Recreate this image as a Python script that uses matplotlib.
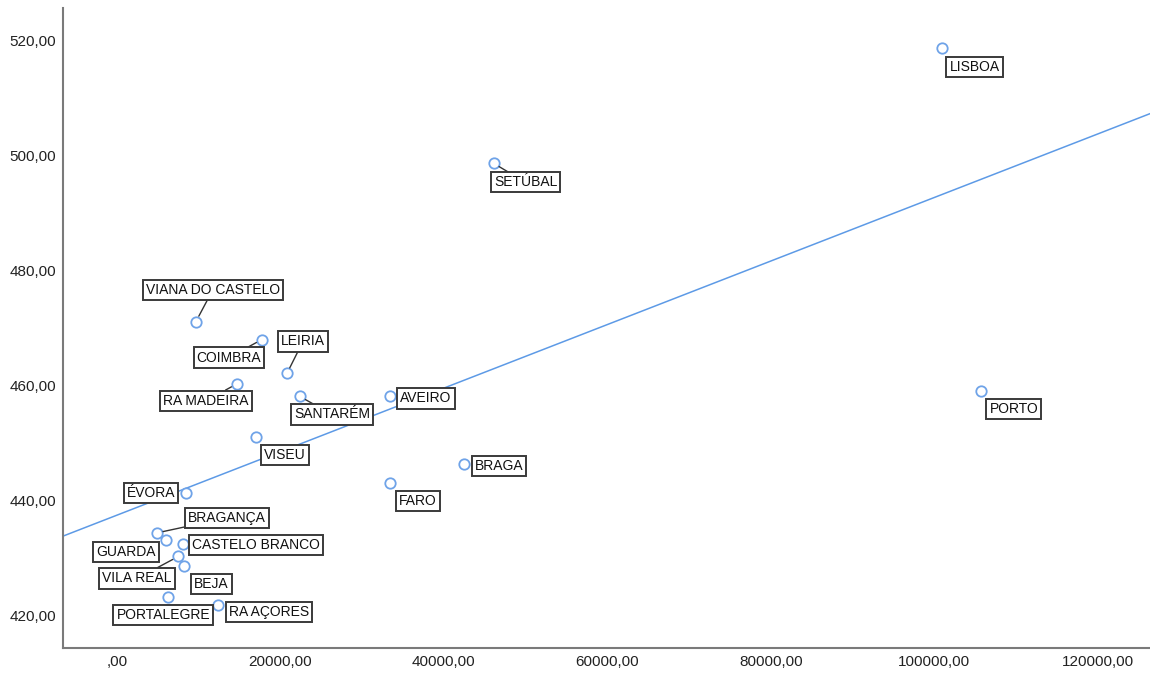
import numpy as np
import matplotlib
matplotlib.use('Agg')
from matplotlib import pyplot as plt
from matplotlib.ticker import FuncFormatter

plt.rcParams['font.family'] = ['Liberation Sans', 'DejaVu Sans']

# data
regions = ['LISBOA', 'SETÚBAL', 'PORTO', 'VIANA DO CASTELO', 'COIMBRA', 'LEIRIA',
           'RA MADEIRA', 'SANTARÉM', 'AVEIRO', 'VISEU', 'BRAGA', 'FARO', 'ÉVORA',
           'BRAGANÇA', 'GUARDA', 'CASTELO BRANCO', 'VILA REAL', 'BEJA',
           'PORTALEGRE', 'RA AÇORES']
x_vals = [100900, 46100, 105700, 9660, 17740, 20800,
          14680, 22390, 33400, 17000, 42450, 33400, 8440,
          4890, 5990, 8040, 7500, 8240,
          6280, 12390]
y_vals = [518.6, 498.6, 459.1, 471.1, 468.0, 462.1,
          460.3, 458.1, 458.1, 451.0, 446.3, 443.1, 441.4,
          434.4, 433.2, 432.5, 430.3, 428.6,
          423.2, 421.9]
x_ticks = [0, 20000, 40000, 60000, 80000, 100000, 120000]
y_ticks = [420, 440, 460, 480, 500, 520]

# label placement (pixels from the point, y up) and which get a leader line
label_offsets = {
    'LISBOA': (33, -19), 'SETÚBAL': (32, -19), 'PORTO': (33, -18),
    'VIANA DO CASTELO': (17, 32), 'COIMBRA': (-33, -18), 'LEIRIA': (16, 32),
    'RA MADEIRA': (-31, -17), 'SANTARÉM': (32, -18), 'AVEIRO': (36, -2),
    'VISEU': (29, -18), 'BRAGA': (35, -2), 'FARO': (28, -18), 'ÉVORA': (-35, 0),
    'BRAGANÇA': (70, 15), 'GUARDA': (-40, -12), 'CASTELO BRANCO': (73, -1),
    'VILA REAL': (-41, -22), 'BEJA': (27, -18), 'PORTALEGRE': (-5, -18),
    'RA AÇORES': (51, -7),
}
leaders = ['SETÚBAL', 'VIANA DO CASTELO', 'COIMBRA', 'LEIRIA', 'RA MADEIRA',
           'SANTARÉM', 'BRAGANÇA', 'VILA REAL']


def spss_fmt(v, pos):
    s = f'{v:.2f}'.replace('.', ',')
    if s.startswith('0,'):
        s = s[1:]
    return s


fig = plt.figure(figsize=(11.5, 6.74), dpi=100)
ax = fig.add_axes([63 / 1150, 1 - 648 / 674, 1 - 63 / 1150, (648 - 8) / 674])

x = np.array(x_vals)
y = np.array(y_vals)

# linear fit line across the whole axis
slope, intercept = np.polyfit(x, y, 1)
xl = np.array([-6600, 126400])
ax.plot(xl, slope * xl + intercept, color='#5d9ae6', lw=1.1, zorder=2)

ax.plot(x, y, 'o', mfc='white', mec='#6fa3e8', mew=1.3, ms=7.5, zorder=4)

for name, px, py in zip(regions, x_vals, y_vals):
    dx, dy = label_offsets[name]
    arrow = None
    if name in leaders:
        arrow = dict(arrowstyle='-', color='#333333', lw=1.0, shrinkA=0, shrinkB=4.5)
    ax.annotate(name, (px, py), xytext=(dx, dy), textcoords='offset pixels',
                ha='center', va='center', fontsize=10, color='#111111',
                bbox=dict(boxstyle='square,pad=0.22', fc='white', ec='#3a3a3a', lw=1.4),
                arrowprops=arrow, zorder=5)

ax.set_xlim(-6600, 126400)
ax.set_ylim(414.4, 525.6)
ax.set_xticks(x_ticks)
ax.set_yticks(y_ticks)
ax.xaxis.set_major_formatter(FuncFormatter(spss_fmt))
ax.yaxis.set_major_formatter(FuncFormatter(spss_fmt))
ax.tick_params(length=0, labelsize=11, colors='#222222')
ax.tick_params(axis='y', pad=5)
ax.tick_params(axis='x', pad=5)

for side in ['top', 'right']:
    ax.spines[side].set_visible(False)
for side in ['left', 'bottom']:
    ax.spines[side].set_color('#7a7a7a')
    ax.spines[side].set_linewidth(1.5)

fig.savefig('out.png', dpi=100)
